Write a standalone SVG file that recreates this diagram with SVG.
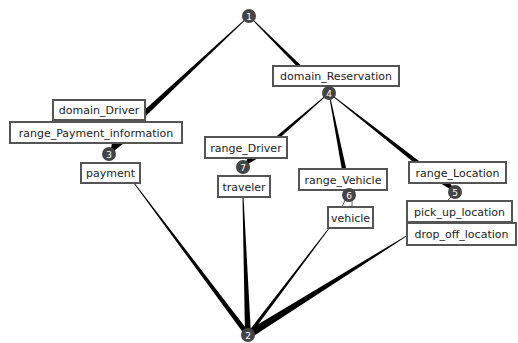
<svg xmlns="http://www.w3.org/2000/svg" width="518" height="343" viewBox="0 0 518 343">
<style>
.box rect{fill:#fff;stroke:#555;stroke-width:2}
.box text{font-family:"DejaVu Sans",sans-serif;font-size:11px;fill:#222;text-anchor:middle}
.num circle{fill:#444}
.num text{font-family:"DejaVu Sans",sans-serif;font-size:9px;fill:#fff;text-anchor:middle}
.e polygon{fill:#000}
.e line{stroke:#666;stroke-width:1}
</style>
<rect width="518" height="343" fill="#fff"/>
<g id="connectors" class="e">
<polygon points="248.73,15.71 142.23,112.10 145.77,115.90 249.27,16.29"/>
<polygon points="248.72,16.28 298.73,68.27 301.27,65.73 249.28,15.72"/>
<polygon points="328.74,92.70 275.82,136.64 278.18,139.36 329.26,93.30"/>
<polygon points="328.61,93.08 341.84,169.43 346.16,168.57 329.39,92.92"/>
<polygon points="328.75,93.31 416.64,164.73 419.36,161.27 329.25,92.69"/>
<polygon points="133.68,183.24 245.92,336.56 250.08,333.44 134.32,182.76"/>
<polygon points="242.50,197.02 245.00,335.11 251.00,334.89 243.50,196.98"/>
<polygon points="329.68,226.76 246.57,333.91 249.43,336.09 330.32,227.24"/>
<polygon points="407.79,234.66 245.88,331.61 250.12,338.39 408.21,235.34"/>
<polygon points="112,143 124,143 110,154"/>
<polygon points="248,158 258,158 243,167"/>
<polygon points="440,183 450,183 455,192"/>
<line x1="345" y1="200" x2="342" y2="207"/>
<line x1="352" y1="200" x2="352" y2="207"/>
<line x1="452" y1="196" x2="447" y2="201"/>
</g>
<g id="n_domain_Driver" class="box"><rect x="53" y="100" width="92" height="20"/><text x="99" y="114">domain_Driver</text></g>
<g id="n_range_Payment_information" class="box"><rect x="10" y="122" width="172" height="21"/><text x="96" y="136.5">range_Payment_information</text></g>
<g id="n_payment" class="box"><rect x="81" y="163" width="59" height="20"/><text x="110.5" y="177">payment</text></g>
<g id="n_domain_Reservation" class="box"><rect x="273" y="66" width="126" height="20"/><text x="336" y="80">domain_Reservation</text></g>
<g id="n_range_Driver" class="box"><rect x="205" y="137" width="82" height="21"/><text x="246" y="151.5">range_Driver</text></g>
<g id="n_traveler" class="box"><rect x="218" y="176" width="52" height="21"/><text x="244" y="190.5">traveler</text></g>
<g id="n_range_Vehicle" class="box"><rect x="299" y="169" width="88" height="21"/><text x="343" y="183.5">range_Vehicle</text></g>
<g id="n_vehicle" class="box"><rect x="328" y="207" width="45" height="21"/><text x="350.5" y="221.5">vehicle</text></g>
<g id="n_range_Location" class="box"><rect x="409" y="162" width="97" height="21"/><text x="457.5" y="176.5">range_Location</text></g>
<g id="n_pick_up_location" class="box"><rect x="407" y="201" width="105" height="21"/><text x="459.5" y="215.5">pick_up_location</text></g>
<g id="n_drop_off_location" class="box"><rect x="407" y="223" width="109" height="22"/><text x="461.5" y="238">drop_off_location</text></g>
<g id="n1" class="num"><circle cx="249" cy="16" r="7"/><text x="249" y="19.5">1</text></g>
<g id="n2" class="num"><circle cx="248" cy="335" r="7"/><text x="248" y="338.5">2</text></g>
<g id="n3" class="num"><circle cx="109" cy="154" r="7"/><text x="109" y="157.5">3</text></g>
<g id="n4" class="num"><circle cx="329" cy="93" r="7"/><text x="329" y="96.5">4</text></g>
<g id="n5" class="num"><circle cx="455" cy="192" r="7"/><text x="455" y="195.5">5</text></g>
<g id="n6" class="num"><circle cx="349" cy="195" r="7"/><text x="349" y="198.5">6</text></g>
<g id="n7" class="num"><circle cx="243" cy="167" r="7"/><text x="243" y="170.5">7</text></g>
</svg>
